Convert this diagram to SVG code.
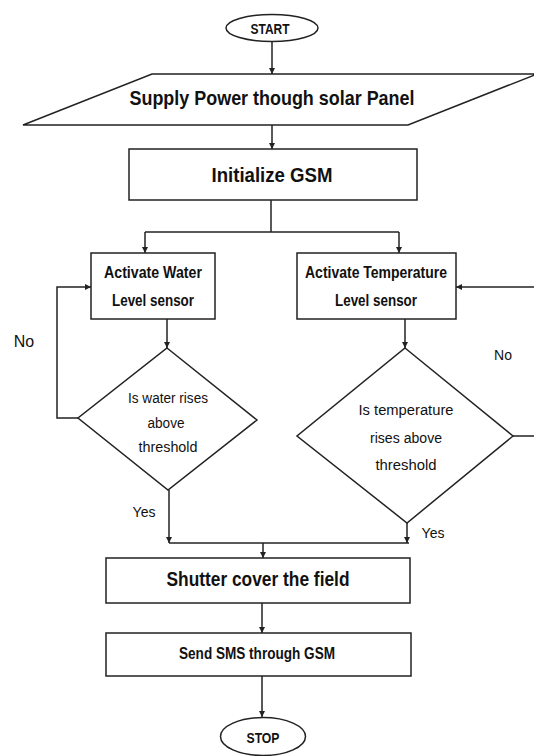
<svg xmlns="http://www.w3.org/2000/svg" width="534" height="756" viewBox="0 0 534 756">
<style>
.s{fill:#fff;stroke:#222;stroke-width:1.5}
.c{fill:none;stroke:#222;stroke-width:1.5}
.t{font-family:"Liberation Sans",Arial,sans-serif;fill:#111;text-anchor:middle}
.b{font-weight:bold}
</style>
<defs>
<marker id="a" viewBox="0 0 10 10" refX="10" refY="5" markerWidth="6" markerHeight="6" orient="auto" markerUnits="userSpaceOnUse">
<path d="M0,0 L10,5 L0,10 z" fill="#222"/>
</marker>
</defs>
<rect width="534" height="756" fill="#fff"/>
<g id="connectors">
<path class="c" d="M272,42 V74" marker-end="url(#a)"/>
<path class="c" d="M272,125 V149" marker-end="url(#a)"/>
<path class="c" d="M271,200 V232"/>
<path class="c" d="M145,232 H399"/>
<path class="c" d="M145,232 V253" marker-end="url(#a)"/>
<path class="c" d="M399,232 V253" marker-end="url(#a)"/>
<path class="c" d="M167,319 V348" marker-end="url(#a)"/>
<path class="c" d="M405,319 V348" marker-end="url(#a)"/>
<path class="c" d="M78,418 H57 V287 H91" marker-end="url(#a)"/>
<path class="c" d="M534,287 H456" marker-end="url(#a)"/>
<path class="c" d="M513,436 H534"/>
<path class="c" d="M169,490 V543" marker-end="url(#a)"/>
<path class="c" d="M407,523 V543" marker-end="url(#a)"/>
<path class="c" d="M169,543 H409"/>
<path class="c" d="M263,543 V558" marker-end="url(#a)"/>
<path class="c" d="M262,603 V633" marker-end="url(#a)"/>
<path class="c" d="M262,676 V717" marker-end="url(#a)"/>
</g>
<g id="start">
<ellipse class="s" cx="272" cy="28" rx="46" ry="13.5"/>
<text class="t b" x="270" y="33.5" font-size="14" textLength="39" lengthAdjust="spacingAndGlyphs">START</text>
</g>
<g id="supply">
<polygon class="s" points="152,74 537,74 408,125 23,125"/>
<text class="t b" x="272" y="105" font-size="21" textLength="285" lengthAdjust="spacingAndGlyphs">Supply Power though solar Panel</text>
</g>
<g id="init">
<rect class="s" x="129" y="149" width="288" height="51"/>
<text class="t b" x="272" y="182" font-size="21" textLength="121" lengthAdjust="spacingAndGlyphs">Initialize GSM</text>
</g>
<g id="water">
<rect class="s" x="91" y="253" width="124" height="66"/>
<text class="t b" x="153" y="278" font-size="16.5" textLength="98" lengthAdjust="spacingAndGlyphs">Activate Water</text>
<text class="t b" x="153" y="306" font-size="16.5" textLength="82" lengthAdjust="spacingAndGlyphs">Level sensor</text>
</g>
<g id="temp">
<rect class="s" x="297" y="253" width="159" height="66"/>
<text class="t b" x="376" y="278" font-size="16.5" textLength="142" lengthAdjust="spacingAndGlyphs">Activate Temperature</text>
<text class="t b" x="376" y="306" font-size="16.5" textLength="82" lengthAdjust="spacingAndGlyphs">Level sensor</text>
</g>
<g id="waterq">
<polygon class="s" points="167,348 257,420 168,490 78,418"/>
<text class="t" x="168" y="403" font-size="14" textLength="80" lengthAdjust="spacingAndGlyphs">Is water rises</text>
<text class="t" x="166" y="428" font-size="14" textLength="37" lengthAdjust="spacingAndGlyphs">above</text>
<text class="t" x="168" y="452" font-size="14" textLength="59" lengthAdjust="spacingAndGlyphs">threshold</text>
</g>
<g id="tempq">
<polygon class="s" points="405,348 513,436 407,523 297,436"/>
<text class="t" x="406" y="415" font-size="15.5" textLength="95" lengthAdjust="spacingAndGlyphs">Is temperature</text>
<text class="t" x="406" y="443" font-size="15.5" textLength="72" lengthAdjust="spacingAndGlyphs">rises above</text>
<text class="t" x="406" y="470" font-size="15.5" textLength="61" lengthAdjust="spacingAndGlyphs">threshold</text>
</g>
<g id="labels">
<text class="t" x="24" y="347" font-size="16">No</text>
<text class="t" x="503" y="360" font-size="14">No</text>
<text class="t" x="144" y="517" font-size="14">Yes</text>
<text class="t" x="433" y="538" font-size="14">Yes</text>
</g>
<g id="shutter">
<rect class="s" x="106" y="558" width="304" height="45"/>
<text class="t b" x="258" y="586" font-size="21" textLength="183" lengthAdjust="spacingAndGlyphs">Shutter cover the field</text>
</g>
<g id="sms">
<rect class="s" x="106" y="633" width="305" height="43"/>
<text class="t b" x="257" y="659" font-size="16" textLength="156" lengthAdjust="spacingAndGlyphs">Send SMS through GSM</text>
</g>
<g id="stop">
<ellipse class="s" cx="263" cy="736.5" rx="42.5" ry="19"/>
<text class="t b" x="263" y="743" font-size="15" textLength="33" lengthAdjust="spacingAndGlyphs">STOP</text>
</g>
</svg>
